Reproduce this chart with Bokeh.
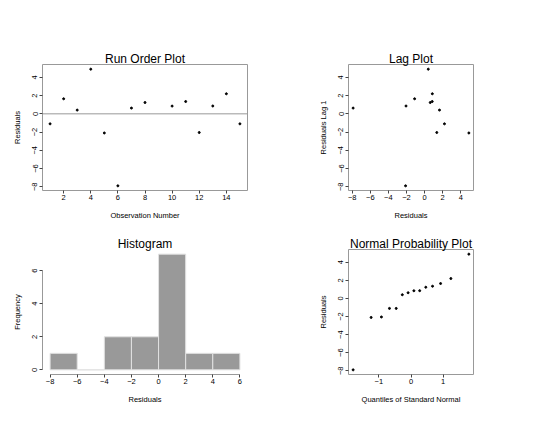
import math
from bokeh.plotting import figure
from bokeh.models import Range1d, Span
from bokeh.layouts import column, row
from bokeh.embed import file_html
from bokeh.resources import INLINE

# ---------------- data ----------------
observation = [1, 2, 3, 4, 5, 6, 7, 8, 9, 10, 11, 12, 13, 14, 15]
residuals = [-1.1, 1.65, 0.41, 4.9, -2.1, -7.9, 0.63, 1.24, None,
             0.85, 1.35, -2.05, 0.86, 2.2, -1.1]
normal_quantiles = [-1.80, -1.24, -0.92, -0.67, -0.46, -0.27, -0.09,
                    0.09, 0.27, 0.46, 0.67, 0.92, 1.24, 1.80]
hist_edges = [-8, -6, -4, -2, 0, 2, 4, 6]
hist_counts = [1, 0, 2, 2, 7, 1, 1]

run_xticks = [2, 4, 6, 8, 10, 12, 14]
res_ticks = [-8, -6, -4, -2, 0, 2, 4]
hist_xticks = [-8, -6, -4, -2, 0, 2, 4, 6]
hist_yticks = [0, 2, 4, 6]
normal_xticks = [-1, 0, 1]

titles = ["Run Order Plot", "Lag Plot", "Histogram", "Normal Probability Plot"]

FONT = "Liberation Sans"
FRAME = "#999999"
TICK = "#444444"

# ---------------- derived series ----------------
run_x = [o for o, r in zip(observation, residuals) if r is not None]
run_y = [r for r in residuals if r is not None]
lag_x, lag_y = [], []
for i in range(len(residuals) - 1):
    if residuals[i] is not None and residuals[i + 1] is not None:
        lag_x.append(residuals[i])
        lag_y.append(residuals[i + 1])
sorted_res = sorted(run_y)


def pad(lo, hi, f=0.04):
    d = (hi - lo) * f
    return lo - d, hi + d


def make_fig(w, h, left, right, top, bottom, xr, yr, title, framed=True):
    p = figure(width=w, height=h, x_range=Range1d(*xr), y_range=Range1d(*yr),
               output_backend="svg", toolbar_location=None,
               min_border_left=left, min_border_right=right,
               min_border_top=top, min_border_bottom=bottom, title=title)
    p.title.align = "center"
    p.title.text_font = FONT
    p.title.text_font_size = "12px"
    p.title.text_font_style = "normal"
    p.title.text_color = "black"
    p.title.standoff = -3
    p.title.offset = 0
    p.grid.visible = False
    p.outline_line_color = FRAME if framed else None
    p.outline_line_width = 1
    p.background_fill_color = "white"
    p.border_fill_color = "white"
    for ax in p.axis:
        ax.major_label_text_font = FONT
        ax.major_label_text_font_size = "7.5px"
        ax.major_label_text_color = "black"
        ax.axis_label_text_font = FONT
        ax.axis_label_text_font_size = "7.5px"
        ax.axis_label_text_font_style = "normal"
        ax.axis_label_text_color = "black"
        ax.minor_tick_line_color = None
        ax.major_tick_in = 0
        ax.major_tick_out = 3
        ax.major_tick_line_color = TICK
        ax.axis_line_color = None if framed else FRAME
    p.xaxis.major_label_standoff = 1
    p.xaxis.axis_label_standoff = 8
    p.yaxis.major_label_standoff = 2
    p.yaxis.axis_label_standoff = 8
    p.yaxis.major_label_orientation = "vertical"
    return p


res_range = pad(min(run_y), max(run_y))
MS = 2

# Run order plot
xr1 = pad(min(observation), max(observation))
p1 = make_fig(283, 232, 42, 36, 64, 42, xr1, res_range, titles[0])
p1.add_layout(Span(location=0, dimension="width", line_color=FRAME, line_width=1))
p1.scatter(run_x, run_y, size=MS, color="black", marker="circle")
p1.xaxis.ticker = run_xticks
p1.yaxis.ticker = res_ticks
p1.xaxis.axis_label = "Observation Number"
p1.yaxis.axis_label = "Residuals"

# Lag plot
p2 = make_fig(259, 232, 65, 69, 64, 42, res_range, res_range, titles[1])
p2.scatter(lag_x, lag_y, size=MS, color="black", marker="circle")
p2.xaxis.ticker = res_ticks
p2.yaxis.ticker = res_ticks
p2.xaxis.axis_label = "Residuals"
p2.yaxis.axis_label = "Residuals Lag 1"

# Histogram
xr3 = pad(hist_edges[0], hist_edges[-1])
yr3 = pad(0, max(hist_counts))
p3 = make_fig(283, 185, 42, 36, 17, 43, xr3, yr3, titles[2], framed=False)
p3.quad(left=hist_edges[:-1], right=hist_edges[1:], bottom=0, top=hist_counts,
        fill_color="#999999", line_color="#e2e2e2", line_width=1)
p3.xaxis.ticker = hist_xticks
p3.yaxis.ticker = hist_yticks
p3.xaxis.bounds = (hist_edges[0], hist_edges[-1])
p3.yaxis.bounds = (hist_yticks[0], hist_yticks[-1])
p3.xaxis.axis_label = "Residuals"
p3.yaxis.axis_label = "Frequency"

# Normal probability plot
xr4 = pad(min(normal_quantiles), max(normal_quantiles))
p4 = make_fig(259, 185, 65, 69, 17, 43, xr4, res_range, titles[3])
p4.scatter(normal_quantiles, sorted_res, size=MS, color="black", marker="circle")
p4.xaxis.ticker = normal_xticks
p4.yaxis.ticker = res_ticks
p4.xaxis.axis_label = "Quantiles of Standard Normal"
p4.yaxis.axis_label = "Residuals"

layout = column(row(p1, p2, spacing=0), row(p3, p4, spacing=0), spacing=0)

open("out.html", "w").write(file_html(layout, INLINE))
